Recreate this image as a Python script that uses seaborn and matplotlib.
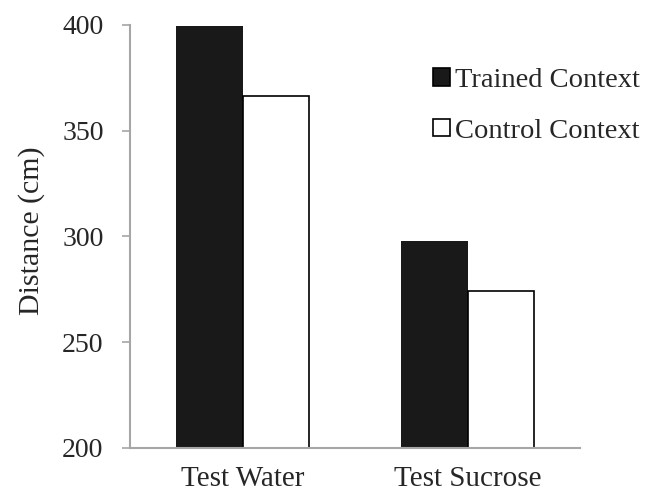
import pandas as pd
import matplotlib
matplotlib.use("Agg")
import matplotlib.pyplot as plt
import matplotlib.patches as mpatches
import seaborn as sns

# values
tests = ["Test Water", "Test Sucrose"]
trained = [399.5, 298.0]
control = [366.5, 274.0]
contexts = ["Trained Context", "Control Context"]

df = pd.DataFrame({
    "test": tests * 2,
    "context": [contexts[0]] * 2 + [contexts[1]] * 2,
    "distance": trained + control,
})

sns.set_style("white")
plt.rcParams["font.family"] = ["Liberation Serif", "DejaVu Serif"]

fig = plt.figure(figsize=(6.46, 4.95), dpi=100)
ax = fig.add_axes([130 / 646, 1 - 447.7 / 495, 450 / 646, 422.7 / 495])

colors = {contexts[0]: "#191919", contexts[1]: "white"}
sns.barplot(data=df, x="test", y="distance", hue="context", order=tests,
            hue_order=contexts, palette=colors, width=0.59, gap=0,
            legend=False, ax=ax)

for i, bar in enumerate(ax.patches):
    if i < 2:
        bar.set_edgecolor("#191919")
        bar.set_linewidth(0)
    else:
        bar.set_edgecolor("black")
        bar.set_linewidth(1.2)

ax.set_ylim(200, 400)
ax.set_yticks([200, 250, 300, 350, 400])
ax.set_xlim(-0.5, 1.5)
ax.set_xlabel("")
ax.set_ylabel("Distance (cm)", fontsize=21.5, labelpad=12, y=0.513)

for s in ["top", "right"]:
    ax.spines[s].set_visible(False)
for s in ["left", "bottom"]:
    ax.spines[s].set_color("#a6a6a6")
    ax.spines[s].set_linewidth(1.5)

ax.tick_params(axis="y", length=6, width=1.2, color="#a6a6a6", pad=13,
               labelsize=20, left=True)
ax.tick_params(axis="x", length=0, pad=13, labelsize=21)

handles = [mpatches.Patch(facecolor=colors[c], edgecolor="black", linewidth=1.2)
           for c in contexts]
fig.legend(handles, contexts, loc="upper left", bbox_to_anchor=(433 / 646, 1 - 68 / 495),
           frameon=False, fontsize=20.5, handlelength=0.58, handleheight=0.58,
           handletextpad=0.2, labelspacing=0.9, borderpad=0, borderaxespad=0)

fig.savefig("out.png", dpi=100)
